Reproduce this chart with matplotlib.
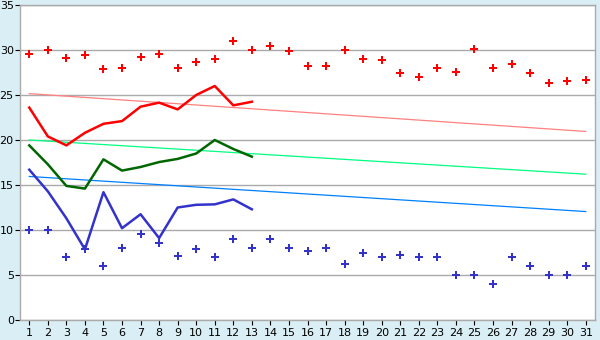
import matplotlib
matplotlib.use("Agg")
import matplotlib.pyplot as plt

# days of the month
days = list(range(1, 32))

# scattered daily maxima / minima
max_points = [29.6, 30.0, 29.1, 29.4, 27.85, 28.0, 29.2, 29.6, 28.0, 28.7,
              29.0, 31.0, 30.0, 30.4, 29.85, 28.2, 28.2, 30.0, 29.0, 28.85,
              27.4, 26.95, 28.0, 27.6, 30.1, 28.0, 28.4, 27.5, 26.3, 26.6, 26.7]
min_points = [10.0, 10.0, 7.0, 7.85, 6.0, 8.0, 9.6, 8.6, 7.1, 7.85,
              7.0, 9.0, 8.0, 9.0, 8.0, 7.7, 8.0, 6.2, 7.4, 7.0,
              7.2, 7.0, 7.0, 5.0, 5.0, 4.0, 7.0, 6.0, 5.0, 5.0, 6.0]

# measured lines for the first 13 days
line_days = list(range(1, 14))
max_line = [23.6, 20.4, 19.4, 20.8, 21.8, 22.1, 23.7, 24.15, 23.4, 25.0, 26.0, 23.85, 24.25]
mean_line = [19.4, 17.3, 14.9, 14.6, 17.85, 16.6, 17.0, 17.55, 17.9, 18.5, 20.0, 19.0, 18.15]
min_line = [16.7, 14.3, 11.3, 7.85, 14.2, 10.2, 11.75, 9.1, 12.5, 12.8, 12.85, 13.4, 12.3]

# long-term reference lines (start / end of month)
ref_days = [1, 31]
ref_max = [25.15, 20.95]
ref_mean = [20.0, 16.2]
ref_min = [15.95, 12.05]

bg = "#DAEEF5"
fig = plt.figure(figsize=(6, 3.4), dpi=100, facecolor=bg)
ax = fig.add_axes([20 / 600, 20 / 340, 575 / 600, 315 / 340])
ax.set_facecolor("white")

ax.plot(ref_days, ref_max, color="#FF8080", lw=0.9, zorder=2)
ax.plot(ref_days, ref_mean, color="#00FF80", lw=0.9, zorder=2)
ax.plot(ref_days, ref_min, color="#0080FF", lw=0.9, zorder=2)

ax.plot(line_days, max_line, color="#FF0000", lw=1.8, zorder=3)
ax.plot(line_days, mean_line, color="#006600", lw=1.8, zorder=3)
ax.plot(line_days, min_line, color="#3333CC", lw=1.8, zorder=3)

ax.plot(days, max_points, ls="none", marker="P", ms=5.5, color="#FF0000", mew=0, zorder=4)
ax.plot(days, min_points, ls="none", marker="P", ms=5.5, color="#3333CC", mew=0, zorder=4)

ax.set_xlim(0.5, 31.5)
ax.set_ylim(0, 35)
ax.set_xticks(days)
ax.set_yticks(range(0, 36, 5))
ax.yaxis.grid(True, color="#AAAAAA", lw=1)
ax.set_axisbelow(True)
ax.tick_params(axis="both", colors="black", labelsize=8, length=3.5, width=0.8)
ax.tick_params(axis="x", pad=2)
ax.tick_params(axis="y", pad=1)
for s in ax.spines.values():
    s.set_color("#AAAAAA")
    s.set_linewidth(1)

fig.savefig("out.png", dpi=100, facecolor=bg)
